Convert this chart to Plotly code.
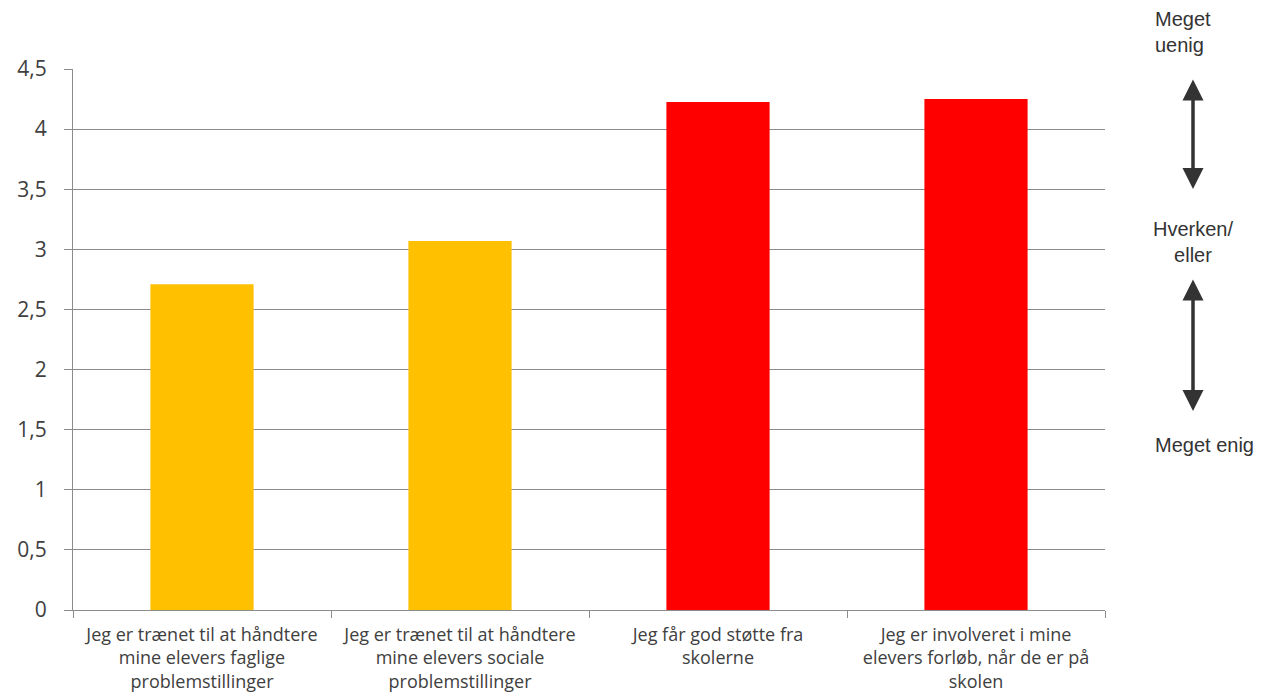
import plotly.graph_objects as go

categories = [
    "Jeg er trænet til at håndtere<br>mine elevers faglige<br>problemstillinger",
    "Jeg er trænet til at håndtere<br>mine elevers sociale<br>problemstillinger",
    "Jeg får god støtte fra<br>skolerne",
    "Jeg er involveret i mine<br>elevers forløb, når de er på<br>skolen",
]
values = [2.71, 3.07, 4.225, 4.25]
bar_colors = ["#FFC000", "#FFC000", "#FF0000", "#FF0000"]
y_ticks = [0, 0.5, 1, 1.5, 2, 2.5, 3, 3.5, 4, 4.5]
y_ticklabels = ["0", "0,5", "1", "1,5", "2", "2,5", "3", "3,5", "4", "4,5"]

fig = go.Figure(go.Bar(x=categories, y=values, marker=dict(color=bar_colors, line=dict(width=0)),
                       width=0.4))

# page body adds an offset; compensate so the plot area spans x 73-1105, y 69-610
fig.update_layout(
    width=1263, height=699,
    margin=dict(l=65, r=166, t=61, b=97),
    plot_bgcolor="white", paper_bgcolor="white",
    showlegend=False,
    font=dict(family="Open Sans, Liberation Sans, sans-serif", color="#404040"),
)
fig.update_yaxes(
    range=[0, 4.5], tickvals=y_ticks, ticktext=y_ticklabels,
    showgrid=True, gridcolor="#8c8c8c", gridwidth=1.2,
    showline=True, linecolor="#8c8c8c", linewidth=1.2,
    ticks="outside", ticklen=8, tickcolor="#8c8c8c",
    tickfont=dict(size=21, color="#404040"), zeroline=False,
    ticklabelstandoff=13, automargin=False,
)
fig.update_xaxes(
    showline=True, linecolor="#8c8c8c", linewidth=1.2,
    ticks="outside", tickson="boundaries", ticklen=7, tickcolor="#8c8c8c",
    tickfont=dict(size=18, color="#404040"), tickangle=0,
    ticklabelstandoff=8, automargin=False,
)

ann_font = dict(family="Liberation Sans, Arial, sans-serif", size=20, color="#333333")

def ypaper(py):
    return (610 - py) / 541

def xpaper(px):
    return (px - 73) / 1032

fig.add_annotation(text="Meget<br>uenig", x=xpaper(1153), y=ypaper(32), xref="paper", yref="paper",
                   showarrow=False, font=ann_font, xanchor="left", yanchor="middle", align="left")
fig.add_annotation(text="Hverken/<br>eller", x=xpaper(1193), y=ypaper(242), xref="paper", yref="paper",
                   showarrow=False, font=ann_font, xanchor="center", yanchor="middle", align="center")
fig.add_annotation(text="Meget enig", x=xpaper(1153), y=ypaper(445), xref="paper", yref="paper",
                   showarrow=False, font=ann_font, xanchor="left", yanchor="middle", align="left")

arrows = [(1193, 78, 189), (1193, 278, 411)]
for px, y_top, y_bot in arrows:
    fig.add_annotation(text="", x=xpaper(px), y=ypaper(y_bot), xref="paper", yref="paper",
                       ax=0, ay=-(y_bot - y_top), axref="pixel", ayref="pixel",
                       showarrow=True, arrowhead=2, arrowside="end+start",
                       arrowsize=1.2, arrowwidth=3.5, arrowcolor="#333333", standoff=0, startstandoff=0)

fig.write_html("out.html")
